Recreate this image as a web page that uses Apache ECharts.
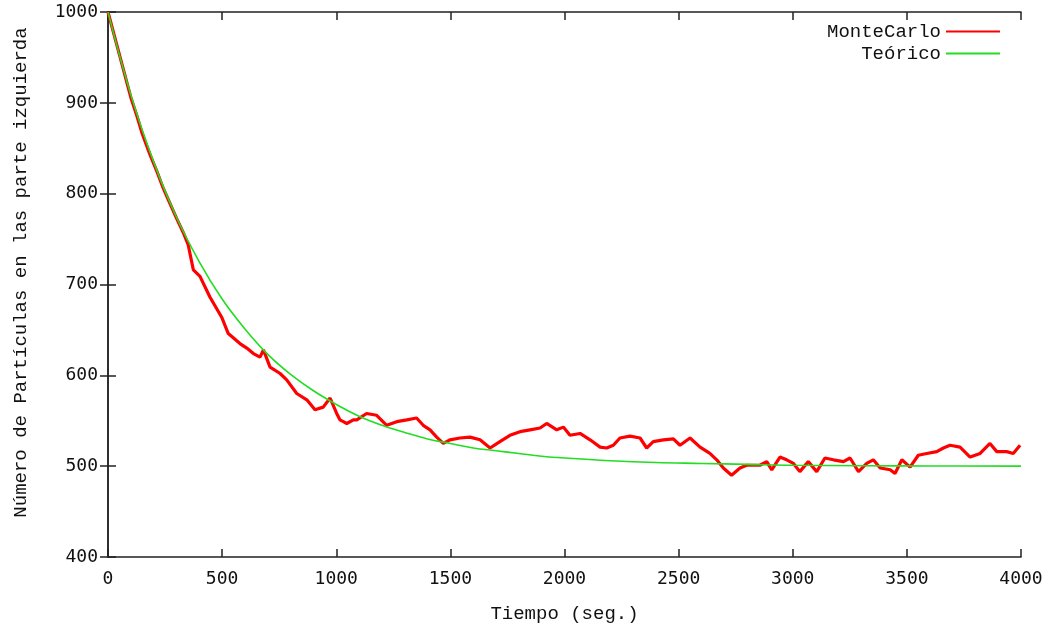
<!DOCTYPE html>
<html>
<head>
<meta charset="utf-8">
<script src="https://cdn.jsdelivr.net/npm/echarts@6/dist/echarts.min.js"></script>
<style>html,body{margin:0;padding:0;background:#fff}#c{width:1063px;height:632px}</style>
</head>
<body>
<div id="c"></div>
<script>
// MonteCarlo simulation: time (s) and particles on the left side
const mcTime = [0,50,100,126,150,184,215,242,270,300,330,351,374,403,447,498,527,578,608,637,666,681,710,754,783,827,871,907,943,973,1002,1016,1031,1046,1075,1090,1133,1177,1221,1265,1309,1352,1381,1411,1440,1469,1498,1542,1586,1630,1674,1717,1761,1805,1849,1893,1922,1966,1995,2024,2068,2112,2156,2185,2214,2243,2287,2331,2360,2389,2433,2477,2506,2550,2594,2637,2667,2696,2732,2769,2798,2827,2856,2886,2908,2944,2973,3003,3031,3068,3105,3141,3178,3222,3251,3288,3324,3353,3383,3427,3448,3478,3514,3550,3587,3631,3660,3689,3733,3777,3821,3864,3894,3937,3966,3996];
const mcValue = [1000,953,906,886,866,843,824,806,790,773,757,744,716,709,686,664,646,635,630,624,620,628,609,602,595,580,573,562,565,575,558,551,549,547,551,551,558,556,545,549,551,553,545,540,532,525,529,531,532,529,520,527,534,538,540,542,547,540,543,534,536,529,521,520,523,531,533,531,520,527,529,530,523,531,521,514,507,498,490,498,501,501,501,505,496,510,507,503,494,505,494,509,507,505,509,494,503,507,498,496,492,507,499,512,514,516,520,523,521,510,514,525,516,516,514,523];
// Theoretical curve
const thTime = [0,100,200,300,400,500,600,700,800,900,1000,1100,1200,1300,1400,1500,1600,1700,1800,1900,2000,2200,2400,2600,2800,3000,3300,3600,4000];
const thValue = [1000,909,835,774,725,684,651,623,601,583,568,555,545,537,530,525,520,517,514,511,509,506,504,503,502,501,500.5,500.2,500];
const xTicks = [0,500,1000,1500,2000,2500,3000,3500,4000];
const yTicks = [400,500,600,700,800,900,1000];
const seriesNames = ['MonteCarlo','Teórico'];

const mcData = mcTime.map((t,i)=>[t,mcValue[i]]);
const thData = thTime.map((t,i)=>[t,thValue[i]]);

const tickFont = {fontFamily:'DejaVu Sans Mono', fontSize:18, color:'#111', formatter:v=>String(v)};
const axisLine = {show:true, lineStyle:{color:'#222', width:1.5}};
const axisTick = {show:true, inside:true, length:8, lineStyle:{color:'#222', width:1.5}};

const chart = echarts.init(document.getElementById('c'), null, {renderer:'canvas'});
chart.setOption({
  animation:false,
  backgroundColor:'#fff',
  grid:{left:108, right:42, top:12, bottom:75, containLabel:false},
  legend:{
    right:58, top:17, orient:'vertical', align:'right', itemGap:3,
    itemWidth:54, itemHeight:2,
    textStyle:{fontFamily:'Liberation Mono', fontSize:19, color:'#111'},
    data:[{name:seriesNames[0], icon:'rect'},{name:seriesNames[1], icon:'rect'}]
  },
  xAxis:[{
    type:'value', min:xTicks[0], max:xTicks[xTicks.length-1], interval:500,
    name:'Tiempo (seg.)', nameLocation:'middle', nameGap:47,
    nameTextStyle:{fontFamily:'Liberation Mono', fontSize:19, color:'#111'},
    axisLine, axisTick, splitLine:{show:false},
    axisLabel:Object.assign({margin:13}, tickFont)
  },{
    type:'value', position:'top', min:xTicks[0], max:xTicks[xTicks.length-1], interval:500,
    axisLine, axisTick, splitLine:{show:false}, axisLabel:{show:false}
  }],
  yAxis:[{
    type:'value', min:yTicks[0], max:yTicks[yTicks.length-1], interval:100,
    name:'Número de Partículas en las parte izquierda', nameLocation:'middle', nameGap:78,
    nameTextStyle:{fontFamily:'Liberation Mono', fontSize:19, color:'#111', padding:[0,0,0,24]},
    axisLine, axisTick, splitLine:{show:false},
    axisLabel:Object.assign({margin:10}, tickFont)
  },{
    type:'value', position:'right', min:yTicks[0], max:yTicks[yTicks.length-1], interval:100,
    axisLine, axisTick, splitLine:{show:false}, axisLabel:{show:false}
  }],
  series:[{
    name:seriesNames[0], type:'line', data:mcData, showSymbol:false, symbol:'none',
    lineStyle:{color:'#ff0000', width:3.2}, itemStyle:{color:'#ff0000'}, z:2
  },{
    name:seriesNames[1], type:'line', data:thData, showSymbol:false, symbol:'none', smooth:0.4,
    lineStyle:{color:'#22dd22', width:1.6}, itemStyle:{color:'#22dd22'}, z:3
  }]
});
</script>
</body>
</html>
